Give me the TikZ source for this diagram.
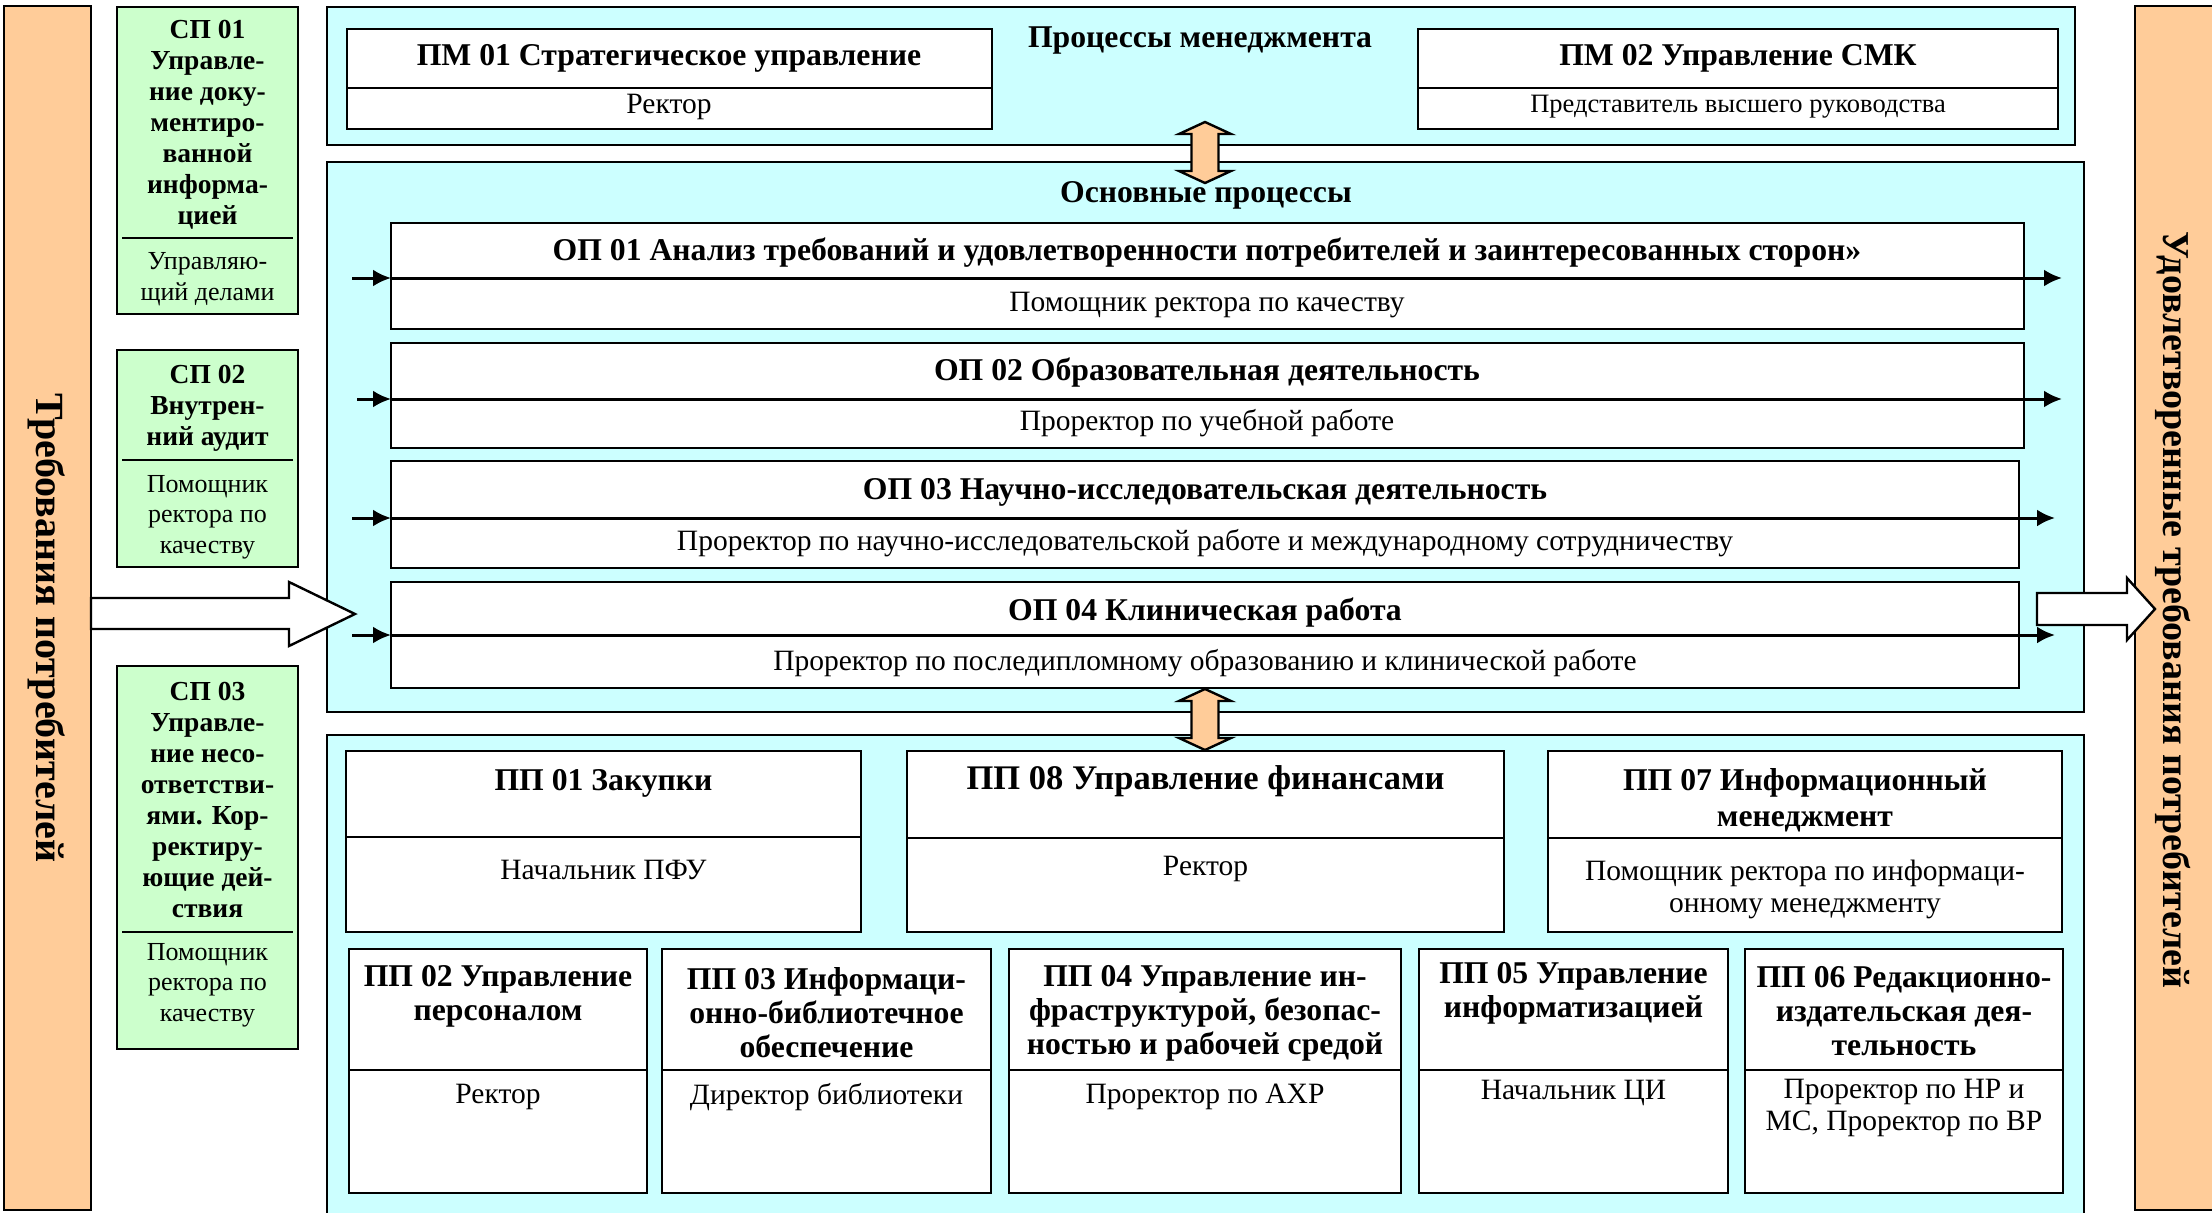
\documentclass[tikz,border=0pt]{standalone}
\usepackage{fontspec}
\setmainfont{Liberation Serif}
\usetikzlibrary{arrows.meta}
\definecolor{cyanbg}{RGB}{204,255,255}
\definecolor{greenbg}{RGB}{204,255,204}
\definecolor{orangebg}{RGB}{255,204,153}
\newcommand\fs[2]{\fontsize{#1}{#2}\selectfont}
\newcommand\rbox[6]{\node[#1, anchor=north west, minimum width={#5-#3}, minimum height={#6-#4}] (#2) at (#3,#4) {};}
\newcommand\procbox[7]{\rbox{#1}{#2}{#3}{#4}{#5}{#6}\draw[divline] (#3,#7) -- (#5,#7);}
\begin{document}
\begin{tikzpicture}[x=1pt,y=-1pt,
  frame/.style={draw, line width=2.4pt, inner sep=0pt, outer sep=0pt},
  wbox/.style={frame, fill=white},
  cbox/.style={frame, fill=cyanbg},
  gbox/.style={frame, fill=greenbg},
  obar/.style={frame, fill=orangebg},
  divline/.style={line width=2.4pt},
  btitle/.style={font=\bfseries\fs{31.7}{34}, align=center, inner sep=0pt},
  rtext/.style={font=\fs{29.5}{32}, align=center, inner sep=0pt},
  gtitle/.style={font=\bfseries\fs{27.5}{31}, align=center, inner sep=0pt},
  gtext/.style={font=\fs{26}{30.5}, align=center, inner sep=0pt},
  vtext/.style={rotate=-90, inner sep=0pt},
  flow/.style={line width=3pt, -{Latex[length=18pt,width=17pt]}},
  blockarrow/.style={draw, line width=2.4pt, fill=white, line join=miter},
  darrow/.style={draw, line width=2.4pt, fill=orangebg, line join=miter}]
\useasboundingbox (0,0) rectangle (2212,1213);
\clip (0,0) rectangle (2212,1213);

% side bars
\rbox{obar}{reqbar}{4}{6}{91}{1210}
\rbox{obar}{satbar}{2135}{6}{2260}{1210}
\node[vtext, font=\bfseries\fs{40}{44}] (reqtxt) at (47,628) {Требования потребителей};
\node[vtext, font=\bfseries\fs{38}{44}] (sattxt) at (2173,610) {Удовлетворенные требования потребителей};

% support processes (green)
\rbox{gbox}{sp1}{117}{7}{298}{314}
\draw[divline] (122,238) -- (293,238);
\node[gtitle] (sp1t) at (207.5,125) {СП 01\\Управле-\\ние доку-\\ментиро-\\ванной\\информа-\\цией};
\node[gtext] (sp1s) at (207.5,279) {Управляю-\\щий делами};

\rbox{gbox}{sp2}{117}{350}{298}{567}
\draw[divline] (122,460) -- (293,460);
\node[gtitle] (sp2t) at (207.5,408) {СП 02\\Внутрен-\\ний аудит};
\node[gtext] (sp2s) at (207.5,517) {Помощник\\ректора по\\качеству};

\rbox{gbox}{sp3}{117}{666}{298}{1049}
\draw[divline] (122,932) -- (293,932);
\node[gtitle] (sp3t) at (207.5,800) {СП 03\\Управле-\\ние несо-\\ответстви-\\ями. Кор-\\ректиру-\\ющие дей-\\ствия};
\node[gtext] (sp3s) at (207.5,985) {Помощник\\ректора по\\качеству};

% cyan containers
\rbox{cbox}{mgmt}{327}{7}{2075}{145}
\rbox{cbox}{core}{327}{162}{2084}{712}
\rbox{cbox}{supp}{327}{735}{2084}{1240}

% management
\node[btitle] (mgmtt) at (1200,40) {Процессы менеджмента};
\procbox{wbox}{pm1}{347}{29}{992}{129}{88}
\node[btitle] (pm1t) at (669,58) {ПМ 01 Стратегическое управление};
\node[rtext] (pm1s) at (669,107) {Ректор};
\procbox{wbox}{pm2}{1418}{29}{2058}{129}{88}
\node[btitle] (pm2t) at (1738,58) {ПМ 02 Управление СМК};
\node[rtext, font=\fs{26.5}{30}] (pm2s) at (1738,107) {Представитель высшего руководства};

% core
\node[btitle] (coret) at (1206,195) {Основные процессы};

\rbox{wbox}{op1}{391}{223}{2024}{329}
\coordinate (op1in) at (352,278); \coordinate (op1out) at (2062,278);
\draw[flow] (op1in) -- (op1in -| op1.west);
\draw[flow] (op1in -| op1.west) -- (op1out);
\node[btitle] (op1t) at (1207,253) {ОП 01 Анализ требований и удовлетворенности потребителей и заинтересованных сторон»};
\node[rtext] (op1s) at (1207,305) {Помощник ректора по качеству};

\rbox{wbox}{op2}{391}{343}{2024}{448}
\coordinate (op2in) at (357,399); \coordinate (op2out) at (2062,399);
\draw[flow] (op2in) -- (op2in -| op2.west);
\draw[flow] (op2in -| op2.west) -- (op2out);
\node[btitle] (op2t) at (1207,373) {ОП 02 Образовательная деятельность};
\node[rtext] (op2s) at (1207,423) {Проректор по учебной работе};

\rbox{wbox}{op3}{391}{461}{2019}{568}
\coordinate (op3in) at (352,518); \coordinate (op3out) at (2055,518);
\draw[flow] (op3in) -- (op3in -| op3.west);
\draw[flow] (op3in -| op3.west) -- (op3out);
\node[btitle] (op3t) at (1205,492) {ОП 03 Научно-исследовательская деятельность};
\node[rtext] (op3s) at (1205,543) {Проректор по научно-исследовательской работе и международному сотрудничеству};

\rbox{wbox}{op4}{391}{582}{2019}{688}
\coordinate (op4in) at (352,635); \coordinate (op4out) at (2055,635);
\draw[flow] (op4in) -- (op4in -| op4.west);
\draw[flow] (op4in -| op4.west) -- (op4out);
\node[btitle] (op4t) at (1205,613) {ОП 04 Клиническая работа};
\node[rtext] (op4s) at (1205,663) {Проректор по последипломному образованию и клинической работе};

% supporting processes
\procbox{wbox}{pp1}{346}{751}{861}{932}{837}
\node[btitle] (pp1t) at (603.5,783) {ПП 01 Закупки};
\node[rtext] (pp1s) at (603.5,870) {Начальник ПФУ};
\procbox{wbox}{pp8}{907}{751}{1504}{932}{838}
\node[btitle, font=\bfseries\fs{34.5}{38}] (pp8t) at (1205.5,781) {ПП 08 Управление финансами};
\node[rtext] (pp8s) at (1205.5,869) {Ректор};
\procbox{wbox}{pp7}{1548}{751}{2062}{932}{838}
\node[btitle, font=\bfseries\fs{31.7}{36}] (pp7t) at (1805,800) {ПП 07 Информационный\\менеджмент};
\node[rtext] (pp7s) at (1805,889) {Помощник ректора по информаци-\\онному менеджменту};

\procbox{wbox}{pp2}{349}{949}{647}{1193}{1070}
\node[btitle] (pp2t) at (498,996.5) {ПП 02 Управление\\персоналом};
\node[rtext] (pp2s) at (498,1097) {Ректор};
\procbox{wbox}{pp3}{662}{949}{991}{1193}{1070}
\node[btitle] (pp3t) at (826.5,1013) {ПП 03 Информаци-\\онно-библиотечное\\обеспечение};
\node[rtext] (pp3s) at (826.5,1097) {Директор библиотеки};
\procbox{wbox}{pp4}{1009}{949}{1401}{1193}{1070}
\node[btitle] (pp4t) at (1205,1013) {ПП 04 Управление ин-\\фраструктурой, безопас-\\ностью и рабочей средой};
\node[rtext] (pp4s) at (1205,1097) {Проректор по АХР};
\procbox{wbox}{pp5}{1419}{949}{1728}{1193}{1070}
\node[btitle] (pp5t) at (1573.5,993) {ПП 05 Управление\\информатизацией};
\node[rtext] (pp5s) at (1573.5,1093) {Начальник ЦИ};
\procbox{wbox}{pp6}{1745}{949}{2063}{1193}{1070}
\node[btitle] (pp6t) at (1904,1011) {ПП 06 Редакционно-\\издательская дея-\\тельность};
\node[rtext] (pp6s) at (1904,1108) {Проректор по НР и\\МС, Проректор по ВР};

% double arrows between groups
\coordinate (da1) at (1205,122);
\draw[darrow] (da1) -- ++(26,12) -- ++(-12.5,0) -- ++(0,37) -- ++(12.5,0) -- ++(-26,12) -- ++(-26,-12) -- ++(12.5,0) -- ++(0,-37) -- ++(-12.5,0) -- cycle;
\coordinate (da2) at (1205,689);
\draw[darrow] (da2) -- ++(26,12) -- ++(-12.5,0) -- ++(0,37) -- ++(12.5,0) -- ++(-26,12) -- ++(-26,-12) -- ++(12.5,0) -- ++(0,-37) -- ++(-12.5,0) -- cycle;

% big block arrows
\coordinate (inL) at (91,598);
\draw[blockarrow] (inL) -- ++(198,0) -- ++(0,-16) -- ++(66,32) -- ++(-66,32) -- ++(0,-17) -- ++(-198,0) -- cycle;
\coordinate (outR) at (2037,593);
\draw[blockarrow] (outR) -- ++(90,0) -- ++(0,-15) -- ++(28,31) -- ++(-28,31) -- ++(0,-15) -- ++(-90,0) -- cycle;
\end{tikzpicture}
\end{document}
